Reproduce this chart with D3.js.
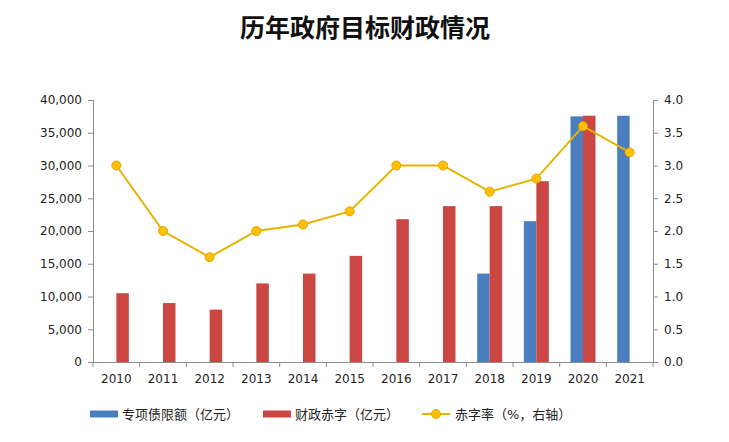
<!DOCTYPE html>
<html>
<head>
<meta charset="utf-8">
<script src="https://cdn.jsdelivr.net/npm/d3@7"></script>
<style>
  body { margin: 0; background: #fff; }
  svg text { font-family: "DejaVu Sans", "Noto Sans CJK SC", sans-serif; }
</style>
</head>
<body>
<div id="chart"></div>
<script>
// 数据
const years = ['2010','2011','2012','2013','2014','2015','2016','2017','2018','2019','2020','2021'];
const bondQuota = [null,null,null,null,null,null,null,null,13500,21500,37500,37600];   // 专项债限额
const deficit   = [10500,9000,8000,12000,13500,16200,21800,23800,23800,27600,37600,null]; // 财政赤字
const deficitRate = [3.0,2.0,1.6,2.0,2.1,2.3,3.0,3.0,2.6,2.8,3.6,3.2];               // 赤字率
const leftTicks = [0,5000,10000,15000,20000,25000,30000,35000,40000];
const rightTicks = [0,0.5,1,1.5,2,2.5,3,3.5,4];

const W = 729, H = 442;
const m = {left: 93, right: W - 653, top: 100, bottom: H - 362};

const svg = d3.select('#chart').append('svg')
  .attr('width', W).attr('height', H);

svg.append('text')
  .attr('x', 365).attr('y', 37)
  .attr('text-anchor', 'middle')
  .style('font-family', '"Noto Sans CJK SC", sans-serif')
  .style('font-weight', 'bold')
  .style('font-size', '25px')
  .attr('fill', '#111')
  .text('历年政府目标财政情况');

const x = d3.scaleBand().domain(years).range([m.left, W - m.right]);
const yL = d3.scaleLinear().domain([0, 40000]).range([H - m.bottom, m.top]);
const yR = d3.scaleLinear().domain([0, 4]).range([H - m.bottom, m.top]);
const bw = 12.5;

// 轴
const axisColor = '#8c8c8c';
const gL = svg.append('g').attr('transform', `translate(${m.left},0)`)
  .call(d3.axisLeft(yL).tickValues(leftTicks).tickSize(5).tickPadding(6).tickFormat(d3.format(',')));
const gR = svg.append('g').attr('transform', `translate(${W - m.right},0)`)
  .call(d3.axisRight(yR).tickValues(rightTicks).tickSize(5).tickPadding(6).tickFormat(d3.format('.1f')));
const gX = svg.append('g').attr('transform', `translate(0,${H - m.bottom})`)
  .call(d3.axisBottom(x).tickSize(0).tickPadding(12));
// x 轴刻度在类别边界
gX.selectAll('.bound').data(d3.range(years.length + 1)).join('line')
  .attr('x1', i => m.left + i * x.step()).attr('x2', i => m.left + i * x.step())
  .attr('y1', 0).attr('y2', 5).attr('stroke', axisColor);

[gL, gR, gX].forEach(g => {
  g.selectAll('path.domain, .tick line').attr('stroke', axisColor);
  g.selectAll('text').attr('fill', '#222').style('font-size', '12px');
});

// 柱
svg.append('g').selectAll('rect').data(years.filter((d, i) => bondQuota[i] != null))
  .join('rect')
  .attr('x', d => x(d) + x.bandwidth() / 2 - bw)
  .attr('width', bw)
  .attr('y', d => yL(bondQuota[years.indexOf(d)]))
  .attr('height', d => yL(0) - yL(bondQuota[years.indexOf(d)]))
  .attr('fill', '#4A7EBF');

svg.append('g').selectAll('rect').data(years.filter((d, i) => deficit[i] != null))
  .join('rect')
  .attr('x', d => x(d) + x.bandwidth() / 2)
  .attr('width', bw)
  .attr('y', d => yL(deficit[years.indexOf(d)]))
  .attr('height', d => yL(0) - yL(deficit[years.indexOf(d)]))
  .attr('fill', '#CB4743');

// 线
const line = d3.line()
  .x((d, i) => x(years[i]) + x.bandwidth() / 2)
  .y(d => yR(d));
svg.append('path').datum(deficitRate)
  .attr('d', line).attr('fill', 'none')
  .attr('stroke', '#E6B400').attr('stroke-width', 2);
svg.append('g').selectAll('circle').data(deficitRate).join('circle')
  .attr('cx', (d, i) => x(years[i]) + x.bandwidth() / 2)
  .attr('cy', d => yR(d))
  .attr('r', 4.5)
  .attr('fill', '#FFC000').attr('stroke', '#E0A800').attr('stroke-width', 1);

// 图例
const lg = svg.append('g').style('font-family', '"Noto Sans CJK SC", sans-serif');
const ly = 414;
lg.append('rect').attr('x', 90).attr('y', ly - 3.5).attr('width', 28).attr('height', 7).attr('fill', '#4A7EBF');
lg.append('text').attr('x', 122).attr('y', ly + 5).style('font-size', '13px').attr('fill', '#222').text('专项债限额（亿元）');
lg.append('rect').attr('x', 263).attr('y', ly - 3.5).attr('width', 28).attr('height', 7).attr('fill', '#CB4743');
lg.append('text').attr('x', 295).attr('y', ly + 5).style('font-size', '13px').attr('fill', '#222').text('财政赤字（亿元）');
lg.append('line').attr('x1', 422).attr('x2', 450).attr('y1', ly).attr('y2', ly).attr('stroke', '#E6B400').attr('stroke-width', 2);
lg.append('circle').attr('cx', 436).attr('cy', ly).attr('r', 4.5).attr('fill', '#FFC000').attr('stroke', '#E0A800');
lg.append('text').attr('x', 455).attr('y', ly + 5).style('font-size', '13px').attr('fill', '#222').text('赤字率（%，右轴）');
</script>
</body>
</html>
